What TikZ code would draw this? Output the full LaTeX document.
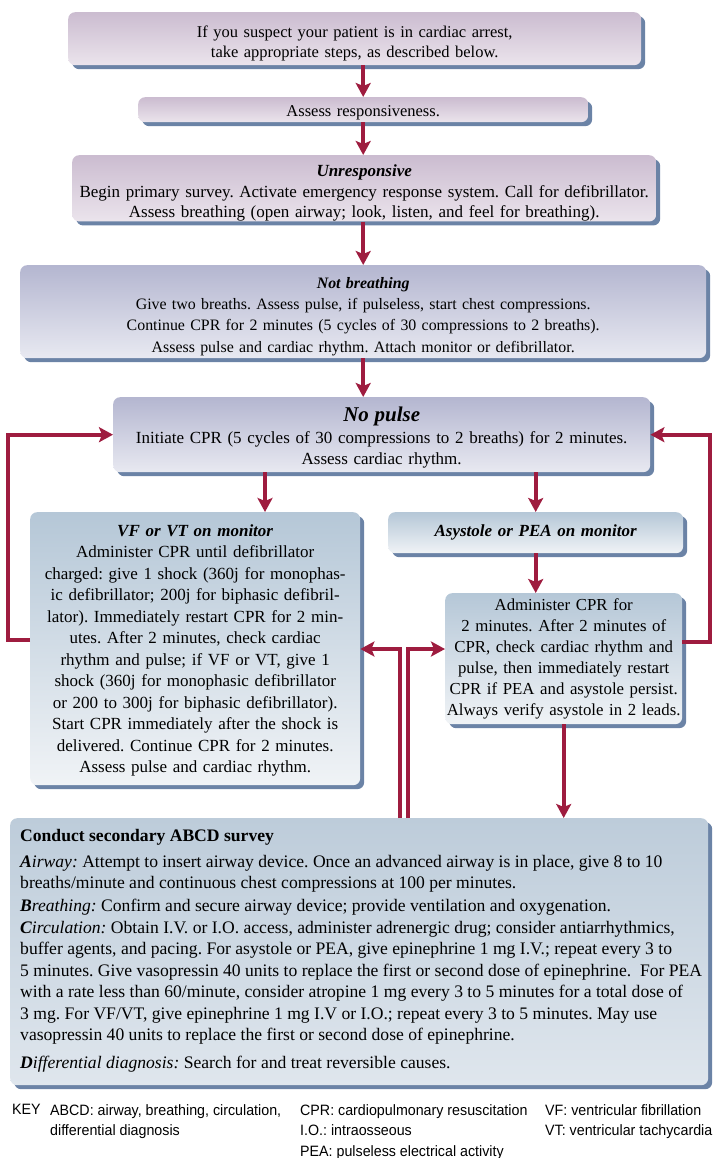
\documentclass[tikz,border=0pt]{standalone}
\usepackage{fontspec}
\setmainfont{Liberation Serif}
\newfontfamily\keyfont[FakeStretch=0.95]{Liberation Sans}
\usetikzlibrary{arrows.meta,shadows,calc}
\frenchspacing

\definecolor{arrowred}{HTML}{9E1C3F}
\definecolor{shadowblue}{HTML}{6B83A6}
\definecolor{mauvetop}{HTML}{CBBCD0}
\definecolor{mauvebot}{HTML}{EBE4EC}
\definecolor{lilactop}{HTML}{B4B6D0}
\definecolor{lilacbot}{HTML}{E8E9F1}
\definecolor{steeltop}{HTML}{B5C7D7}
\definecolor{steelbot}{HTML}{F0F3F6}
\definecolor{surveytop}{HTML}{BDCCDA}
\definecolor{surveybot}{HTML}{DFE6ED}

\tikzset{
  stepbox/.style={rounded corners=7pt, anchor=north west, align=center, inner sep=0pt,
    drop shadow={shadow xshift=4pt, shadow yshift=-4pt, fill=shadowblue, opacity=1}},
  mauvebox/.style={stepbox, top color=mauvetop, bottom color=mauvebot},
  lilacbox/.style={stepbox, top color=lilactop, bottom color=lilacbot},
  steelbox/.style={stepbox, top color=steeltop, bottom color=steelbot},
  surveybox/.style={stepbox, top color=surveytop, bottom color=surveybot},
  flow/.style={arrowred, line width=4pt, -{Stealth[length=14pt,width=15pt,inset=3pt]}},
  keytext/.style={font=\keyfont\fontsize{15}{20.5}\selectfont, align=left, anchor=north west, inner sep=0pt},
}
\newcommand{\boxtitle}[1]{\textbf{\textit{#1}}}
% invisible strut that lowers the text inside its box
\newcommand{\textdrop}[1]{\rule{0pt}{#1}}

\begin{document}
\begin{tikzpicture}[x=1pt, y=1pt, font=\fontsize{17}{21.5}\selectfont]
  \useasboundingbox (0,0) rectangle (712,-1158);

  % Primary survey
  \node[mauvebox, text width=573pt, minimum height=53pt, font=\fontsize{16.5}{20}\selectfont] (suspect) at (68,-12)
    {\textdrop{20.5pt}If you suspect your patient is in cardiac arrest,\\ take appropriate steps, as described below.};
  \node[mauvebox, text width=450pt, minimum height=25pt, font=\fontsize{16.5}{20}\selectfont] (assess) at (138,-97)
    {\textdrop{17.6pt}Assess responsiveness.};
  \node[mauvebox, text width=584pt, minimum height=64pt, font=\fontsize{17}{20.5}\selectfont] (unresp) at (72,-155)
    {\textdrop{21.6pt}\boxtitle{Unresponsive}\\
     Begin primary survey. Activate emergency response system. Call for defibrillator.\\
     Assess breathing (open airway; look, listen, and feel for breathing).};
  \node[lilacbox, text width=686pt, minimum height=93pt, font=\fontsize{15.9}{21.3}\selectfont] (nobreath) at (20,-265)
    {\textdrop{20.6pt}\boxtitle{Not breathing}\\
     Give two breaths. Assess pulse, if pulseless, start chest compressions.\\
     Continue CPR for 2 minutes (5 cycles of 30 compressions to 2 breaths).\\
     Assess pulse and cardiac rhythm. Attach monitor or defibrillator.};
  \node[lilacbox, text width=537pt, minimum height=75pt] (nopulse) at (113,-397)
    {\textdrop{20.5pt}{\fontsize{21}{23}\selectfont\boxtitle{No pulse}}\\
     Initiate CPR (5 cycles of 30 compressions to 2 breaths) for 2 minutes.\\
     Assess cardiac rhythm.};

  % Rhythm branches
  \node[steelbox, text width=330pt, minimum height=273pt] (vfvt) at (30,-512)
    {\textdrop{15.6pt}\boxtitle{VF or VT on monitor}\\
     Administer CPR until defibrillator\\
     charged: give 1 shock (360j for monophas-\\
     ic defibrillator; 200j for biphasic defibril-\\
     lator). Immediately restart CPR for 2 min-\\
     utes. After 2 minutes, check cardiac\\
     rhythm and pulse; if VF or VT, give 1\\
     shock (360j for monophasic defibrillator\\
     or 200 to 300j for biphasic defibrillator).\\
     Start CPR immediately after the shock is\\
     delivered. Continue CPR for 2 minutes.\\
     Assess pulse and cardiac rhythm.};
  \node[steelbox, text width=295pt, minimum height=41pt] (asys) at (388,-512)
    {\boxtitle{Asystole or PEA on monitor}};
  \node[steelbox, text width=237pt, minimum height=131pt, font=\fontsize{16.8}{21}\selectfont] (asyscpr) at (445,-593)
    {Administer CPR for\\
     2 minutes. After 2 minutes of\\
     CPR, check cardiac rhythm and\\
     pulse, then immediately restart\\
     CPR if PEA and asystole persist.\\
     Always verify asystole in 2 leads.};

  % Secondary survey
  \node[surveybox, minimum width=698pt, minimum height=267pt] (abcd) at (10,-818) {};
  \node[anchor=north west, align=left, inner sep=0pt, font=\fontsize{17.6}{21.5}\selectfont] (abcdtext) at (20,-829)
    {\textbf{Conduct secondary ABCD survey}\\[4.5pt]
     \textit{\textbf{A}irway:} Attempt to insert airway device. Once an advanced airway is in place, give 8 to 10\\
     breaths/minute and continuous chest compressions at 100 per minutes.\\[1.5pt]
     \textit{\textbf{B}reathing:} Confirm and secure airway device; provide ventilation and oxygenation.\\
     \textit{\textbf{C}irculation:} Obtain I.V. or I.O. access, administer adrenergic drug; consider antiarrhythmics,\\
     buffer agents, and pacing. For asystole or PEA, give epinephrine 1 mg I.V.; repeat every 3 to\\
     5 minutes. Give vasopressin 40 units to replace the first or second dose of epinephrine.\ \ For PEA\\
     with a rate less than 60/minute, consider atropine 1 mg every 3 to 5 minutes for a total dose of\\
     3 mg. For VF/VT, give epinephrine 1 mg I.V or I.O.; repeat every 3 to 5 minutes. May use\\
     vasopressin 40 units to replace the first or second dose of epinephrine.\\[6.5pt]
     \textit{\textbf{D}ifferential diagnosis:} Search for and treat reversible causes.};

  % Key
  \node[keytext] (key) at (12,-1104) {KEY};
  \node[keytext] (keyabcd) at (50,-1104) {ABCD: airway, breathing, circulation,\\ differential diagnosis};
  \node[keytext] (keycpr) at (300,-1104) {CPR: cardiopulmonary resuscitation\\ I.O.: intraosseous\\ PEA: pulseless electrical activity};
  \node[keytext] (keyvf) at (545,-1104) {VF: ventricular fibrillation\\ VT: ventricular tachycardia};

  % Guide points for the connectors
  \coordinate (vfdrop) at (265,0);
  \coordinate (backleft) at (400,-649);
  \coordinate (backright) at (408,-649);

  % Main sequence
  \draw[flow] (suspect.south -| assess.north) -- (assess.north);
  \draw[flow] (assess.south) -- (assess.south |- unresp.north);
  \draw[flow] (unresp.south -| nobreath.north) -- (nobreath.north);
  \draw[flow] (nobreath.south) -- (nobreath.south |- nopulse.north);
  \draw[flow] (vfdrop |- nopulse.south) -- (vfdrop |- vfvt.north);
  \draw[flow] (asys.north |- nopulse.south) -- (asys.north);
  \draw[flow] (asys.south) -- (asys.south |- asyscpr.north);
  \draw[flow] (asyscpr.south) -- (asyscpr.south |- abcd.north);

  % Loops back to no pulse
  \draw[flow] ([yshift=8.5pt]vfvt.west) -- ++(-22,0) |- (nopulse.west);
  \draw[flow] ([yshift=17pt]asyscpr.east) -- ++(28,0) |- (nopulse.east);

  % Returns from secondary survey
  \draw[flow] (abcd.north -| backleft) -- (backleft) -- (backleft -| vfvt.east);
  \draw[flow] (abcd.north -| backright) -- (backright) -- (backright -| asyscpr.west);
\end{tikzpicture}
\end{document}
